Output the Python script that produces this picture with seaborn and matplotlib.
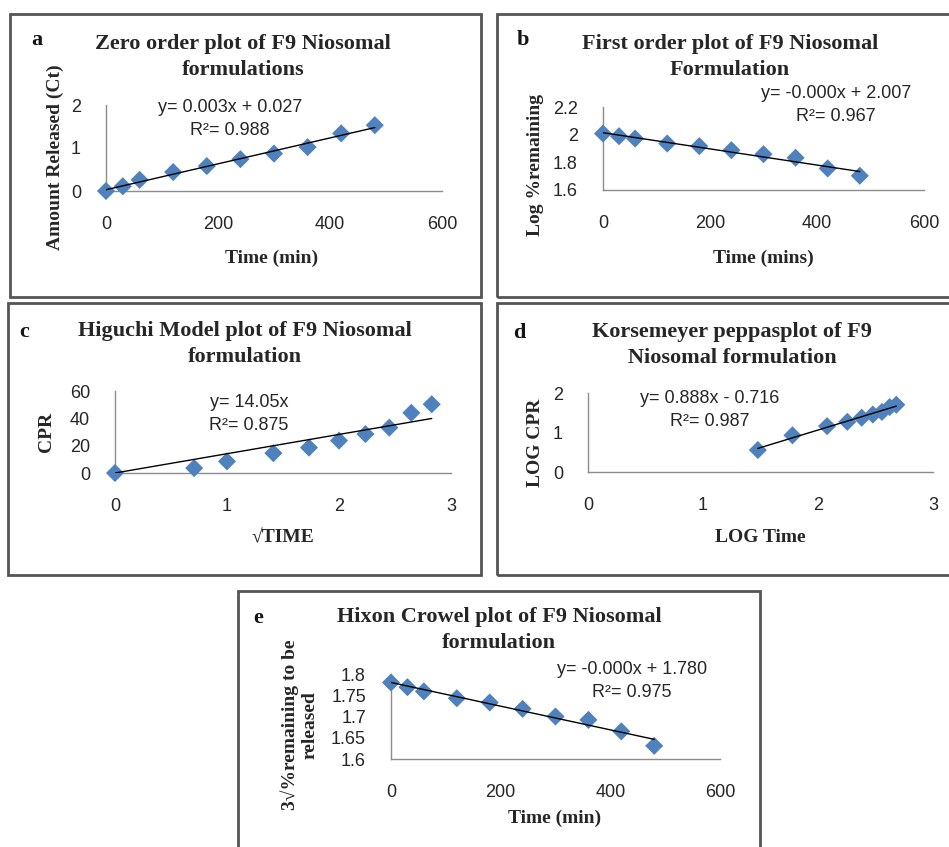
import numpy as np
import pandas as pd
import matplotlib
matplotlib.use('Agg')
import matplotlib.pyplot as plt
import seaborn as sns
from matplotlib.patches import Rectangle

sns.set_style('white')
plt.rcParams['font.family'] = ['Liberation Sans', 'DejaVu Sans']

time_min = [0, 30, 60, 120, 180, 240, 300, 360, 420, 480]
amount_released = [0.0, 0.11, 0.26, 0.44, 0.58, 0.74, 0.87, 1.02, 1.34, 1.53]
log_remaining = [2.008, 1.989, 1.972, 1.936, 1.917, 1.888, 1.859, 1.833, 1.756, 1.703]
sqrt_time = [0, 0.707, 1.0, 1.414, 1.732, 2.0, 2.236, 2.449, 2.646, 2.828]
cpr = [0.0, 3.6, 8.5, 14.5, 18.6, 23.7, 28.5, 33.2, 44.0, 50.3]
log_time = [1.477, 1.778, 2.079, 2.255, 2.380, 2.477, 2.556, 2.623, 2.681]
log_cpr = [0.556, 0.929, 1.161, 1.270, 1.375, 1.455, 1.521, 1.643, 1.702]
cube_root_remaining = [1.780, 1.769, 1.759, 1.743, 1.733, 1.718, 1.700, 1.692, 1.665, 1.631]

W, H = 949, 847
fig = plt.figure(figsize=(W / 100, H / 100), dpi=100)

SERIF = ['Liberation Serif', 'DejaVu Serif']
BLUE = '#4F81BD'
AXIS_GREY = '#8c8c8c'
TEXT = '#262626'


def fx(px):
    return px / W


def fy(py):
    return 1 - py / H


def add_axes(l, t, r, b):
    return fig.add_axes([fx(l), fy(b), (r - l) / W, (b - t) / H])


def frame(l, t, r, b):
    fig.add_artist(Rectangle((fx(l), fy(b)), (r - l) / W, (b - t) / H,
                             transform=fig.transFigure, fill=False,
                             ec='#555555', lw=2))


def style(ax, xlim, xticks, ylim, yticks):
    ax.set_xlim(xlim)
    ax.set_ylim(ylim)
    ax.set_xticks(xticks)
    ax.set_yticks(yticks)
    ax.set_xticklabels([f'{v:g}' for v in xticks])
    ax.set_yticklabels([f'{v:g}' for v in yticks])
    for s in ['top', 'right']:
        ax.spines[s].set_visible(False)
    for s in ['left', 'bottom']:
        ax.spines[s].set_color(AXIS_GREY)
        ax.spines[s].set_linewidth(1)
    ax.tick_params(length=4, width=1, color=AXIS_GREY, labelsize=13,
                   labelcolor=TEXT, pad=14)
    ax.patch.set_alpha(0)


def labels(ax, xlabel, xpos, ylabel, ypos):
    ax.set_xlabel(xlabel, fontfamily=SERIF, fontweight='bold', fontsize=14, color=TEXT)
    ax.set_ylabel(ylabel, fontfamily=SERIF, fontweight='bold', fontsize=14, color=TEXT)
    ax.xaxis.set_label_coords(fx(xpos[0]), fy(xpos[1]), transform=fig.transFigure)
    ax.yaxis.set_label_coords(fx(ypos[0]), fy(ypos[1]), transform=fig.transFigure)
    ax.xaxis.label.set_va('center')
    ax.yaxis.label.set_va('center')


def heading(letter, lpos, title, tpos):
    fig.text(fx(lpos[0]), fy(lpos[1]), letter, fontfamily=SERIF, fontweight='bold',
             fontsize=16, color='#141414', ha='center', va='center')
    fig.text(fx(tpos[0]), fy(tpos[1]), title, fontfamily=SERIF, fontweight='bold',
             fontsize=16, color=TEXT, ha='center', va='center', linespacing=1.4)


def equation(txt, pos):
    fig.text(fx(pos[0]), fy(pos[1]), txt, fontsize=13, color=TEXT,
             ha='center', va='center', multialignment='center', linespacing=1.4)


def points(ax, x, y):
    sns.scatterplot(x=x, y=y, marker='D', s=85, color=BLUE, edgecolor='none',
                    ax=ax, clip_on=False, zorder=3)


def trend(ax, x, y):
    sns.regplot(x=x, y=y, ci=None, scatter=False, color='black',
                line_kws={'lw': 1, 'zorder': 4}, ax=ax)


# panel frames
frame(10, 14, 481, 297)
frame(497, 14, 955, 297)
frame(8, 303, 481, 575)
frame(497, 303, 955, 575)
frame(238, 591, 760, 855)

# a: zero order
ax = add_axes(106, 105, 442, 191)
points(ax, time_min, amount_released)
trend(ax, time_min, amount_released)
style(ax, (0, 600), [0, 200, 400, 600], (0, 2), [0, 1, 2])
labels(ax, 'Time (min)', (272, 258), 'Amount Released (Ct)', (55, 157))
heading('a', (37, 40), 'Zero order plot of F9 Niosomal\nformulations', (243, 57))
equation('y= 0.003x + 0.027\nR²= 0.988', (230, 119))

# b: first order
ax = add_axes(603, 107, 924, 190)
points(ax, time_min, log_remaining)
trend(ax, time_min, log_remaining)
style(ax, (0, 600), [0, 200, 400, 600], (1.6, 2.2), [1.6, 1.8, 2, 2.2])
labels(ax, 'Time (mins)', (763, 258), 'Log %remaining', (535, 165))
heading('b', (523, 40), 'First order plot of F9 Niosomal\nFormulation', (730, 57))
equation('y= -0.000x + 2.007\nR²= 0.967', (836, 105))

# c: Higuchi (trend line forced through the origin)
ax = add_axes(115, 391, 451, 473)
points(ax, sqrt_time, cpr)
xs = np.array(sqrt_time)
slope = np.dot(xs, cpr) / np.dot(xs, xs)
fit = pd.DataFrame({'x': [xs.min(), xs.max()]})
fit['y'] = slope * fit['x']
sns.lineplot(data=fit, x='x', y='y', color='black', lw=1, ax=ax, zorder=4)
style(ax, (0, 3), [0, 1, 2, 3], (0, 60), [0, 20, 40, 60])
labels(ax, '√TIME', (283, 538), 'CPR', (47, 432))
heading('c', (24, 332), 'Higuchi Model plot of F9 Niosomal\nformulation', (245, 344))
equation('y= 14.05x\nR²= 0.875', (249, 414))

# d: Korsmeyer-Peppas
ax = add_axes(588, 393, 933, 472)
points(ax, log_time, log_cpr)
trend(ax, log_time, log_cpr)
style(ax, (0, 3), [0, 1, 2, 3], (0, 2), [0, 1, 2])
labels(ax, 'LOG Time', (760, 538), 'LOG CPR', (535, 443))
heading('d', (519, 333), 'Korsemeyer peppasplot of F9\nNiosomal formulation', (732, 345))
equation('y= 0.888x - 0.716\nR²= 0.987', (710, 410))

# e: Hixson-Crowell
ax = add_axes(391, 674, 720, 759)
points(ax, time_min, cube_root_remaining)
trend(ax, time_min, cube_root_remaining)
style(ax, (0, 600), [0, 200, 400, 600], (1.6, 1.8), [1.6, 1.65, 1.7, 1.75, 1.8])
labels(ax, 'Time (min)', (555, 818), '3√%remaining to be\nreleased', (299, 725))
heading('e', (258, 618), 'Hixon Crowel plot of F9 Niosomal\nformulation', (499, 630))
equation('y= -0.000x + 1.780\nR²= 0.975', (632, 681))

fig.savefig('out.png', dpi=100)
